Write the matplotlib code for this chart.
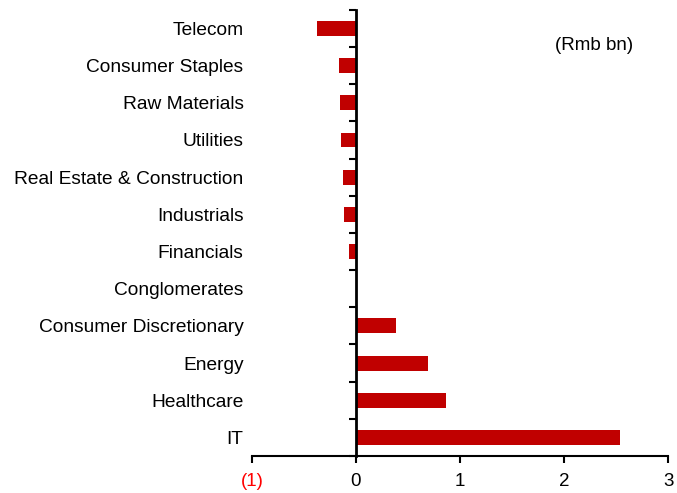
import numpy as np
import matplotlib.pyplot as plt

plt.rcParams['font.family'] = ['Liberation Sans', 'DejaVu Sans']

# sectors, top to bottom
sectors = ["Telecom", "Consumer Staples", "Raw Materials", "Utilities",
           "Real Estate & Construction", "Industrials", "Financials",
           "Conglomerates", "Consumer Discretionary", "Energy",
           "Healthcare", "IT"]
values = [-0.375, -0.16, -0.155, -0.145, -0.125, -0.115, -0.07,
          0.0, 0.385, 0.69, 0.865, 2.54]
xticks = [-1, 0, 1, 2, 3]
xtick_labels = ["(1)", "0", "1", "2", "3"]

fig = plt.figure(figsize=(6.77, 4.93), dpi=100)
ax = fig.add_axes([0.372, 0.075, 0.615, 0.905])

y = np.arange(len(sectors))
ax.barh(y, values, height=0.4, color="#C00000", zorder=2)

ax.set_xlim(-1, 3)
ax.set_ylim(len(sectors) - 0.5, -0.5)

# x axis
ax.set_xticks(xticks)
ax.set_xticklabels(xtick_labels, fontsize=13.5)
ax.get_xticklabels()[0].set_color("#FF0000")
ax.tick_params(axis="x", direction="out", length=5, width=1.5, pad=7)
ax.spines["bottom"].set_linewidth(1.5)

# vertical axis at zero, ticks between categories
ax.spines["left"].set_position(("data", 0))
ax.spines["left"].set_linewidth(2)
ax.set_yticks(np.arange(len(sectors) + 1) - 0.5)
ax.set_yticklabels([])
ax.tick_params(axis="y", direction="out", length=5, width=1.5)
for s in ["top", "right"]:
    ax.spines[s].set_visible(False)

# category labels at the left edge
sec = ax.secondary_yaxis(0)
sec.set_yticks(y)
sec.set_yticklabels(sectors, fontsize=13.8)
sec.tick_params(length=0, pad=6)
sec.spines["left"].set_visible(False)

ax.text(0.728, 0.92, "(Rmb bn)", transform=ax.transAxes, fontsize=13.5,
        ha="left", va="center")

fig.savefig("out.png", dpi=100)
